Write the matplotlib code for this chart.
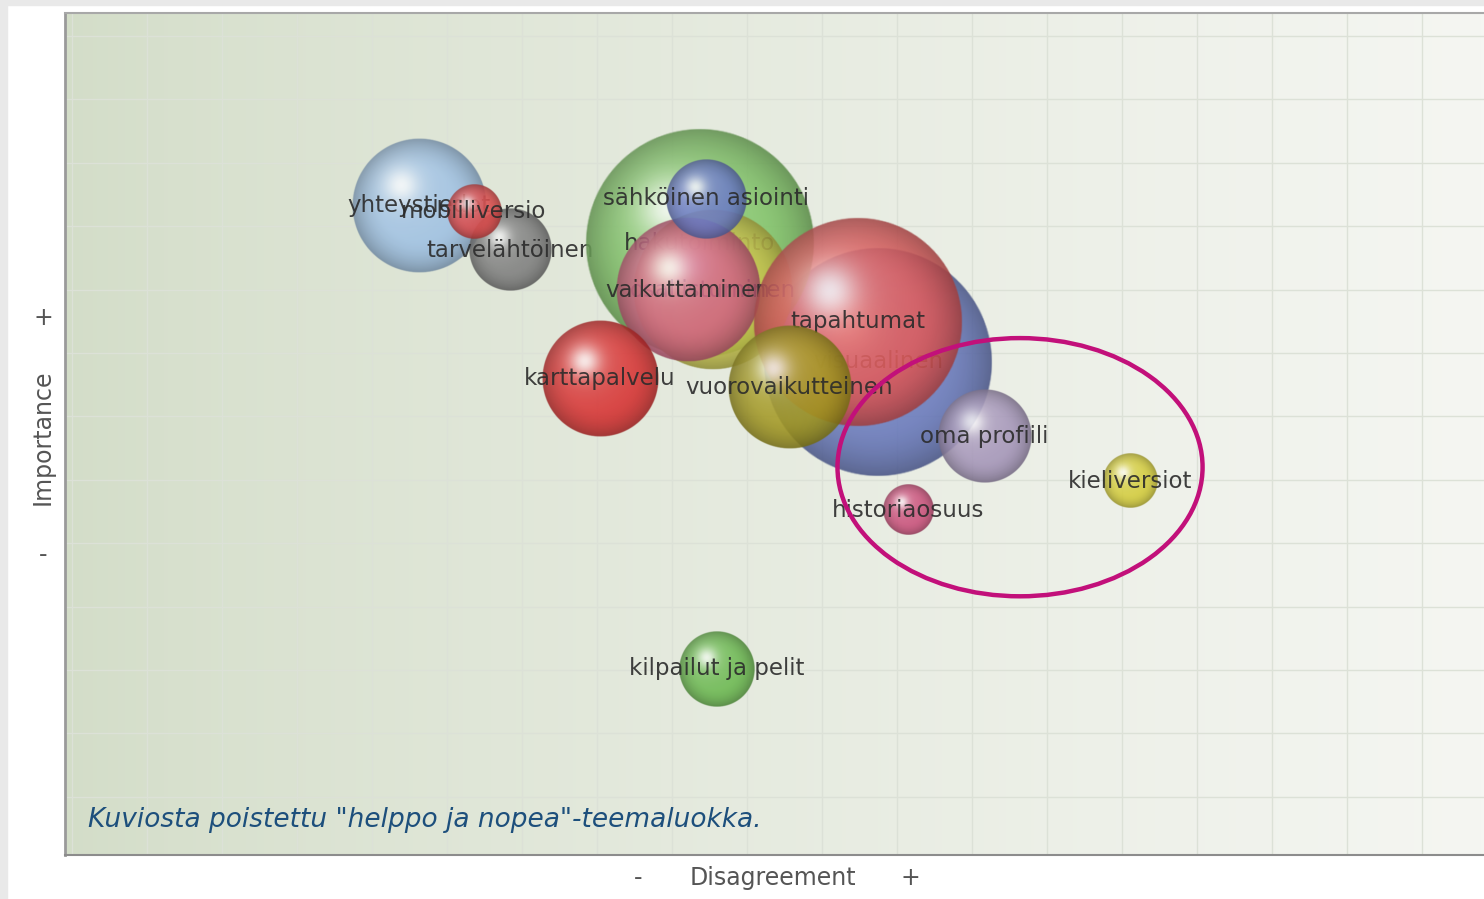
import numpy as np
import matplotlib
matplotlib.use("Agg")
import matplotlib.pyplot as plt
from matplotlib.colors import to_rgb
from matplotlib.patches import Ellipse, Rectangle

# bubble data, in drawing order (later ones sit on top)
labels = ["yhteystiedot", "tarvelähtöinen", "mobiiliversio", "visuaalinen",
          "hakutoiminto", "osallistuminen", "vaikuttaminen", "sähköinen asiointi",
          "tapahtumat", "vuorovaikutteinen", "karttapalvelu", "oma profiili",
          "historiaosuus", "kieliversiot", "kilpailut ja pelit"]
disagreement = [4.63, 5.84, 5.36, 10.75, 8.37, 8.55, 8.21, 8.45,
                10.48, 9.57, 7.04, 12.17, 11.15, 14.11, 8.60]
importance = [10.32, 9.62, 10.23, 7.86, 9.73, 8.99, 8.99, 10.43,
              8.49, 7.45, 7.60, 6.69, 5.52, 5.98, 3.02]
mentions = [45, 17, 7.3, 132, 132, 64, 52, 16, 110, 38, 34, 22, 6.3, 7.3, 14.4]
colors = ["#9cbfe2", "#7a7a7a", "#d94444", "#6475bb", "#7cc262", "#c8c448",
          "#d0607f", "#6677c2", "#de5656", "#a0951a", "#d62a2a", "#a191b6",
          "#c84a76", "#d2ca34", "#66b64a"]
highlighted = ["oma profiili", "historiaosuus", "kieliversiot"]
caption = "Kuviosta poistettu \"helppo ja nopea\"-teemaluokka."

fig = plt.figure(figsize=(14.84, 8.99), dpi=100, facecolor="white")
fig.patches.append(Rectangle((0, 0.9945), 1, 0.0055, transform=fig.transFigure,
                             color="#e9e9e9", zorder=0))
fig.patches.append(Rectangle((0, 0), 0.0047, 1, transform=fig.transFigure,
                             color="#e9e9e9", zorder=0))
ax = fig.add_axes([0.0438, 0.0489, 0.9562, 0.9366])
ax.set_xlim(-0.093, 18.83)
ax.set_ylim(0.082, 13.36)

# background: green on the left fading to almost white
g = np.linspace(0, 1, 400) ** 0.8
left = np.array(to_rgb("#d3ddc8"))
right = np.array(to_rgb("#f5f6f2"))
grad = left[None, :] * (1 - g[:, None]) + right[None, :] * g[:, None]
ax.imshow(grad[None, :, :], extent=[0, 1, 0, 1], transform=ax.transAxes,
          aspect="auto", zorder=0)

ax.set_xticks(np.arange(0, 19))
ax.set_yticks(np.arange(1, 14))
ax.grid(True, color="#dce1d7", linewidth=1.0)
ax.set_axisbelow(True)
ax.tick_params(length=0, labelbottom=False, labelleft=False)
ax.spines["right"].set_visible(False)
ax.spines["left"].set_color("#9a9a9a")
ax.spines["left"].set_linewidth(2)
ax.spines["top"].set_color("#a8a8a8")
ax.spines["top"].set_linewidth(1.5)
ax.spines["bottom"].set_color("#8c8c8c")
ax.spines["bottom"].set_linewidth(1.5)

fig.canvas.draw()
p0 = ax.transData.transform((0, 0))
p1 = ax.transData.transform((1, 1))
px_x = p1[0] - p0[0]
px_y = p1[1] - p0[1]


def sphere(color, n=256):
    base = np.array(to_rgb(color))
    v, u = np.mgrid[-1:1:n * 1j, -1:1:n * 1j]
    rr = np.hypot(u, v)
    dh = np.hypot(u + 0.27, v + 0.3)
    glow = 0.7 * np.exp(-(dh / 0.26) ** 2) + 0.18 * np.exp(-(dh / 0.75) ** 2)
    edge = 0.3 * np.clip((rr - 0.5) / 0.5, 0, 1) ** 2
    rgb = base * (1 - edge)[..., None]
    w = np.clip(glow, 0, 1)[..., None]
    rgb = rgb * (1 - w) + w
    alpha = 0.88 * np.clip((1 - rr) / (3.0 / n), 0, 1)
    return np.dstack([rgb, alpha])


z = 2
for lab, x, y, m, c in zip(labels, disagreement, importance, mentions, colors):
    r = 10 * np.sqrt(m)
    rx, ry = r / px_x, r / px_y
    ax.imshow(sphere(c), extent=[x - rx, x + rx, y - ry, y + ry],
              aspect="auto", interpolation="bilinear", zorder=z)
    ax.text(x, y, lab, ha="center", va="center", fontsize=16.5,
            color="#2b2b2b", alpha=0.9, zorder=z + 0.5)
    z += 1

# ring around the three low-importance bubbles
idx = [labels.index(h) for h in highlighted]
rs = [10 * np.sqrt(mentions[i]) for i in idx]
x_lo = min(disagreement[i] - r / px_x for i, r in zip(idx, rs))
x_hi = max(disagreement[i] + r / px_x for i, r in zip(idx, rs))
y_lo = min(importance[i] - r / px_y for i, r in zip(idx, rs))
y_hi = max(importance[i] + r / px_y for i, r in zip(idx, rs))
ring = Ellipse(((x_lo + x_hi) / 2, (y_lo + y_hi) / 2 - 5 / px_y),
               (x_hi - x_lo) + 91 / px_x, (y_hi - y_lo) + 112 / px_y,
               fill=False, edgecolor="#c2107a", linewidth=3.2, zorder=50)
ax.add_patch(ring)

ax.set_xlim(-0.093, 18.83)
ax.set_ylim(0.082, 13.36)

ax.text(0.0165, 0.042, caption, transform=ax.transAxes, fontsize=19,
        fontstyle="italic", family=["DejaVu Sans"], color="#1d4f7c",
        ha="left", va="center", zorder=60)

axis_font = dict(color="#555555", fontsize=17, ha="center", va="center")
fig.text(43 / 1484, 1 - 437 / 899, "Importance", rotation=90, **axis_font)
fig.text(43 / 1484, 1 - 318 / 899, "+", **axis_font)
fig.text(43 / 1484, 1 - 555 / 899, "-", **axis_font)
fig.text(773 / 1484, 1 - 878 / 899, "Disagreement", **axis_font)
fig.text(638 / 1484, 1 - 878 / 899, "-", **axis_font)
fig.text(910 / 1484, 1 - 878 / 899, "+", **axis_font)

fig.savefig("out.png", dpi=100)
